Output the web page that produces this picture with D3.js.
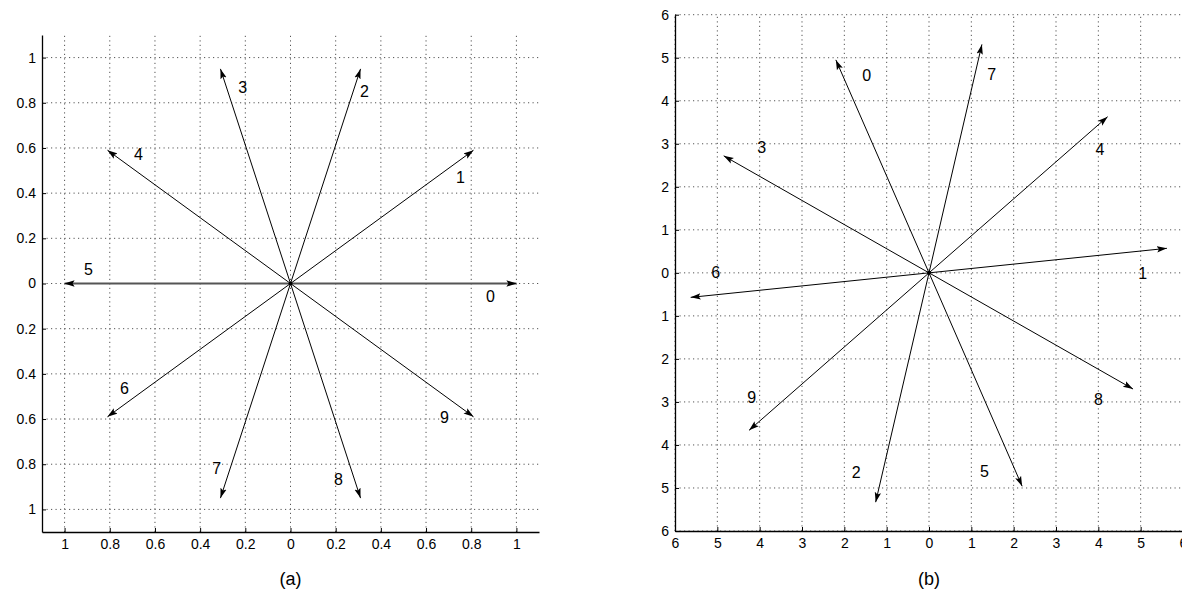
<!DOCTYPE html>
<html>
<head>
<meta charset="utf-8">
<script src="https://cdn.jsdelivr.net/npm/d3@7"></script>
<style>
body{margin:0;background:#fff;}
svg text{font-family:"Liberation Sans",Arial,sans-serif;fill:#000;}
</style>
</head>
<body>
<svg id="chart" width="1182" height="594"></svg>
<script>
// panel (a) data
var ticksA=[-1,-0.8,-0.6,-0.4,-0.2,0,0.2,0.4,0.6,0.8,1];
var tickLabelsA=["1","0.8","0.6","0.4","0.2","0","0.2","0.4","0.6","0.8","1"];
var vecNamesA=["0","1","2","3","4","5","6","7","8","9"];
var vecXA=[1,0.81,0.31,-0.31,-0.81,-1,-0.81,-0.31,0.31,0.81];
var vecYA=[0,0.59,0.95,0.95,0.59,0,-0.59,-0.95,-0.95,-0.59];
var lblXA=[0.885,0.752,0.327,-0.212,-0.673,-0.894,-0.735,-0.327,0.212,0.681];
var lblYA=[-0.057,0.469,0.85,0.867,0.571,0.062,-0.465,-0.819,-0.867,-0.593];

// panel (b) data
var ticksB=[-6,-5,-4,-3,-2,-1,0,1,2,3,4,5,6];
var tickLabelsB=["6","5","4","3","2","1","0","1","2","3","4","5","6"];
var vecNamesB=["0","1","2","3","4","5","6","7","8","9"];
var vecXB=[-2.2,5.62,-1.26,-4.85,4.22,2.2,-5.63,1.25,4.82,-4.25];
var vecYB=[4.95,0.57,-5.33,2.72,3.63,-4.96,-0.57,5.31,-2.7,-3.66];
var lblXB=[-1.47,5.05,-1.72,-3.95,4.04,1.31,-5.04,1.48,4.0,-4.19];
var lblYB=[4.6,-0.01,-4.63,2.91,2.88,-4.61,0,4.62,-2.94,-2.9];

var svg=d3.select("#chart");

//arrow head
svg.append("defs").append("marker")
	.attr("id","head")
	.attr("markerUnits","userSpaceOnUse")
	.attr("viewBox","0 -4 10 8")
	.attr("refX",10).attr("refY",0)
	.attr("markerWidth",10).attr("markerHeight",8)
	.attr("orient","auto")
	.append("path")
	.attr("d","M0,-3.2L10,0L0,3.2L2,0Z")
	.attr("fill","#000");

function drawPanel(opt){
	var x=d3.scaleLinear().domain(opt.xDomain).range(opt.xRange);
	var y=d3.scaleLinear().domain(opt.yDomain).range(opt.yRange);
	var g=svg.append("g");

	//grid
	g.append("g").selectAll("line").data(opt.ticks).enter().append("line")
		.attr("x1",function(d){return x(d);}).attr("x2",function(d){return x(d);})
		.attr("y1",opt.yRange[0]).attr("y2",opt.yRange[1])
		.attr("stroke","#555").attr("stroke-width",1).attr("stroke-dasharray","1.2,3.3");
	g.append("g").selectAll("line").data(opt.ticks).enter().append("line")
		.attr("y1",function(d){return y(d);}).attr("y2",function(d){return y(d);})
		.attr("x1",opt.xRange[0]).attr("x2",opt.xRange[1])
		.attr("stroke","#555").attr("stroke-width",1).attr("stroke-dasharray","1.2,3.3");

	//axes
	var ax=d3.axisBottom(x).tickValues(opt.ticks).tickSizeInner(-4).tickSizeOuter(0).tickPadding(7)
		.tickFormat(function(d,i){return opt.tickLabels[i];});
	var ay=d3.axisLeft(y).tickValues(opt.ticks).tickSizeInner(-4).tickSizeOuter(0).tickPadding(6)
		.tickFormat(function(d,i){return opt.tickLabels[i];});
	var gx=g.append("g").attr("transform","translate(0,"+opt.yRange[0]+")").call(ax);
	var gy=g.append("g").attr("transform","translate("+opt.xRange[0]+",0)").call(ay);
	[gx,gy].forEach(function(a){
		a.selectAll("text").style("font-size","14px").attr("fill","#000");
		a.selectAll("line").attr("stroke","#000");
		a.select(".domain").attr("stroke","#000").attr("stroke-width",1.3);
	});

	//vectors
	g.append("g").selectAll("line").data(opt.vx).enter().append("line")
		.attr("x1",x(0)).attr("y1",y(0))
		.attr("x2",function(d){return x(d);})
		.attr("y2",function(d,i){return y(opt.vy[i]);})
		.attr("stroke",function(d,i){return opt.vy[i]===0?"#555":"#000";})
		.attr("stroke-width",function(d,i){return opt.vy[i]===0?2:1;})
		.attr("marker-end","url(#head)");
	g.append("circle").attr("cx",x(0)).attr("cy",y(0)).attr("r",2).attr("fill","#000");

	//vector names
	g.append("g").selectAll("text").data(opt.names).enter().append("text")
		.attr("x",function(d,i){return x(opt.lx[i]);})
		.attr("y",function(d,i){return y(opt.ly[i]);})
		.attr("text-anchor","middle").attr("dy","0.35em")
		.style("font-size","16px")
		.text(function(d){return d;});

	//caption
	g.append("text").attr("x",x(0)).attr("y",585).attr("text-anchor","middle")
		.style("font-size","18px").text(opt.caption);
}

drawPanel({
	xDomain:[-1.1,1.1],xRange:[42,539],
	yDomain:[-1.1,1.1],yRange:[532,35],
	ticks:ticksA,tickLabels:tickLabelsA,
	vx:vecXA,vy:vecYA,names:vecNamesA,lx:lblXA,ly:lblYA,
	caption:"(a)"
});
drawPanel({
	xDomain:[-6,6],xRange:[675,1183],
	yDomain:[-6,6],yRange:[531,14.7],
	ticks:ticksB,tickLabels:tickLabelsB,
	vx:vecXB,vy:vecYB,names:vecNamesB,lx:lblXB,ly:lblYB,
	caption:"(b)"
});
</script>
</body>
</html>
